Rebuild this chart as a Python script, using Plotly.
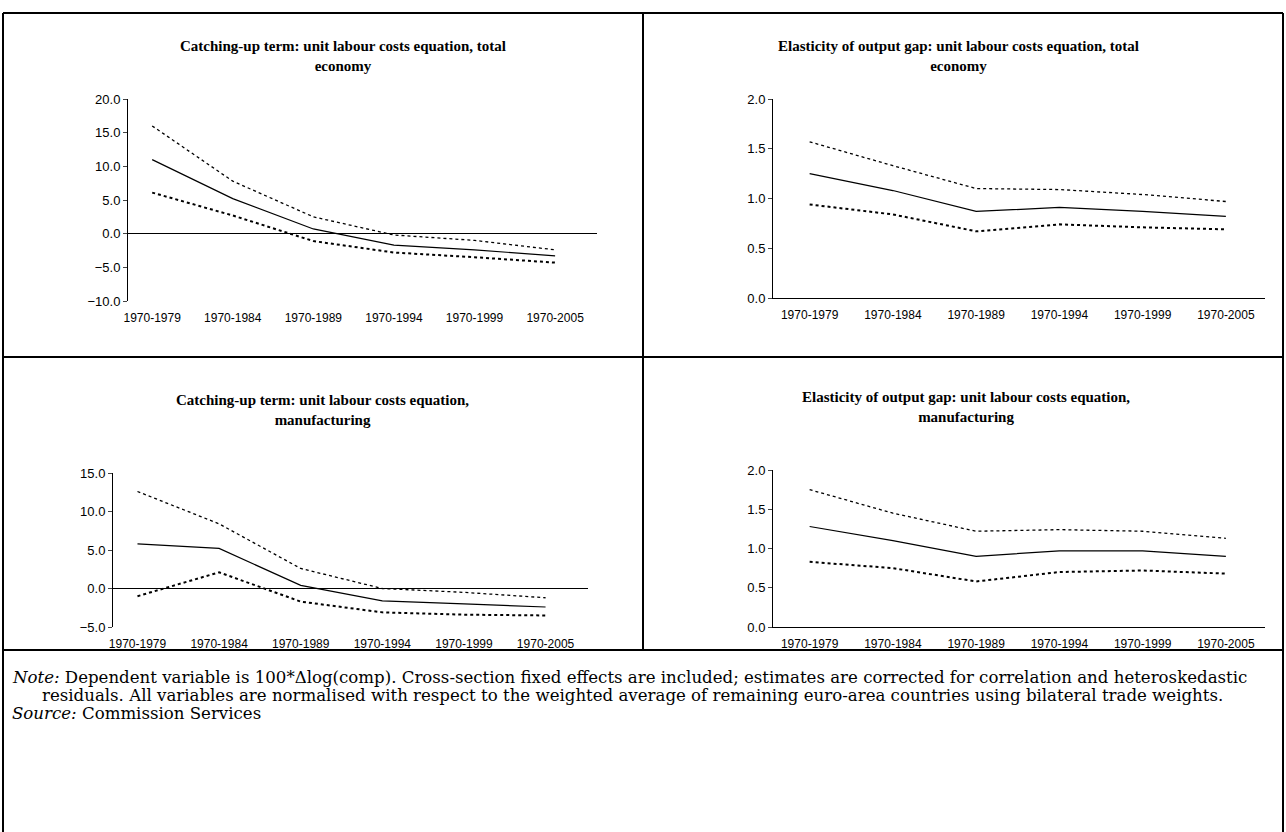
import plotly.graph_objects as go

periods = ["1970-1979", "1970-1984", "1970-1989", "1970-1994", "1970-1999", "1970-2005"]

tl_mid = [11.0, 5.2, 0.7, -1.7, -2.4, -3.3]
tl_up = [16.0, 7.8, 2.5, -0.2, -1.0, -2.4]
tl_lo = [6.1, 2.7, -1.1, -2.8, -3.5, -4.3]

tr_mid = [1.25, 1.08, 0.87, 0.91, 0.87, 0.82]
tr_up = [1.57, 1.33, 1.10, 1.09, 1.04, 0.97]
tr_lo = [0.94, 0.84, 0.67, 0.74, 0.71, 0.69]

bl_mid = [5.8, 5.2, 0.4, -1.6, -2.0, -2.4]
bl_up = [12.6, 8.4, 2.6, 0.0, -0.5, -1.2]
bl_lo = [-1.0, 2.1, -1.7, -3.1, -3.4, -3.5]

br_mid = [1.28, 1.10, 0.90, 0.97, 0.97, 0.90]
br_up = [1.75, 1.45, 1.22, 1.24, 1.22, 1.13]
br_lo = [0.83, 0.75, 0.58, 0.70, 0.72, 0.68]

W, H = 1286, 832
def px(x):
    return x / W
def py(y):
    return 1 - y / H

panels = [
    # (mid, up, lo, xdomain, ydomain, xrange, yrange, dtick, title, title_center_x, title_y, zero)
    (tl_mid, tl_up, tl_lo, [px(128), px(597)], [py(301), py(99)], [-0.3, 5.52], [-10, 20], 5,
     "Catching-up term: unit labour costs equation, total<br>economy", 343, 56, True),
    (tr_mid, tr_up, tr_lo, [px(773), px(1265)], [py(298), py(99)], [-0.44, 5.47], [0, 2], 0.5,
     "Elasticity of output gap: unit labour costs equation, total<br>economy", 958, 56, False),
    (bl_mid, bl_up, bl_lo, [px(113), px(588)], [py(627), py(473)], [-0.3, 5.52], [-5, 15], 5,
     "Catching-up term: unit labour costs equation,<br>manufacturing", 322, 410, True),
    (br_mid, br_up, br_lo, [px(773), px(1265)], [py(627), py(470)], [-0.44, 5.47], [0, 2], 0.5,
     "Elasticity of output gap: unit labour costs equation,<br>manufacturing", 966, 407, False),
]

fig = go.Figure()
xs = list(range(len(periods)))
for i, (mid, up, lo, xd, yd, xr, yr, dt, title, tx, ty, zero) in enumerate(panels):
    n = "" if i == 0 else str(i + 1)
    fig.add_trace(go.Scatter(x=xs, y=up, mode="lines", line=dict(color="black", width=1.3, dash="dot"),
                             xaxis="x" + n, yaxis="y" + n, showlegend=False))
    fig.add_trace(go.Scatter(x=xs, y=lo, mode="lines", line=dict(color="black", width=2, dash="dot"),
                             xaxis="x" + n, yaxis="y" + n, showlegend=False))
    fig.add_trace(go.Scatter(x=xs, y=mid, mode="lines", line=dict(color="black", width=1.2),
                             xaxis="x" + n, yaxis="y" + n, showlegend=False))
    fig.layout["xaxis" + n] = dict(domain=xd, range=xr, tickvals=xs, ticktext=periods, anchor="y" + n,
                                   showgrid=False, zeroline=False, showline=not zero, linecolor="black",
                                   ticks="outside", ticklen=6, tickcolor="rgba(0,0,0,0)",
                                   tickfont=dict(family="Liberation Sans", size=12, color="black"))
    fig.layout["yaxis" + n] = dict(domain=yd, range=yr, dtick=dt, tickformat=".1f", anchor="x" + n,
                                   showgrid=False, showline=True, linecolor="black", ticks="outside",
                                   ticklen=4, zeroline=zero, zerolinecolor="black", zerolinewidth=1,
                                   tickfont=dict(family="Liberation Sans", size=13, color="black"))
    fig.add_annotation(x=px(tx), y=py(ty), xref="paper", yref="paper", text="<b>" + title + "</b>",
                       showarrow=False, font=dict(family="Liberation Serif", size=15, color="black"),
                       xanchor="center", yanchor="middle")

frame = [
    (px(3), py(13), px(1283), py(13)),
    (px(3), py(13), px(3), py(832)),
    (px(1283), py(13), px(1283), py(832)),
    (px(643), py(13), px(643), py(650)),
    (px(3), py(357), px(1283), py(357)),
    (px(3), py(650), px(1283), py(650)),
]
for x0, y0, x1, y1 in frame:
    fig.add_shape(type="line", x0=x0, y0=y0, x1=x1, y1=y1, xref="paper", yref="paper",
                  line=dict(color="black", width=2))

note_lines = [
    (10, 677, "<i>Note:</i> Dependent variable is 100*Δlog(comp). Cross-section fixed effects are included; estimates are corrected for correlation and heteroskedastic"),
    (40, 695, "residuals. All variables are normalised with respect to the weighted average of remaining euro-area countries using bilateral trade weights."),
    (10, 713, "<i>Source:</i> Commission Services"),
]
for lx, ly, txt in note_lines:
    fig.add_annotation(x=px(lx), y=py(ly), xref="paper", yref="paper", text=txt, showarrow=False,
                       xanchor="left", yanchor="middle", align="left",
                       font=dict(family="DejaVu Serif", size=16.6, color="black"))

fig.update_layout(width=W, height=H, margin=dict(l=0, r=0, t=0, b=0, autoexpand=False),
                  paper_bgcolor="white", plot_bgcolor="white")
fig.write_html("out.html", config={"displayModeBar": False},
               post_script="document.body.style.margin='0';")
